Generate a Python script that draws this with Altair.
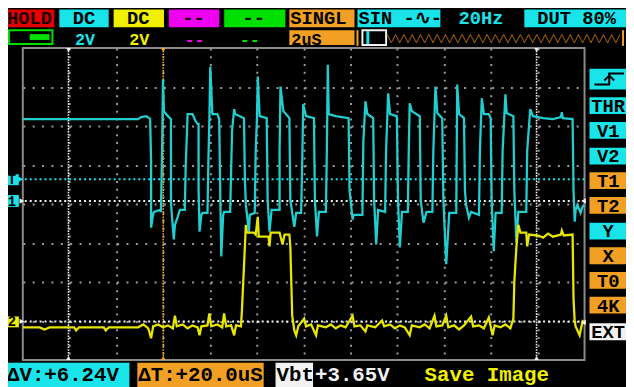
import altair as alt
import pandas as pd

# ---------------- scope settings ----------------
US_PER_DIV = 2          # 2uS / div
VOLTS_PER_DIV = 2       # 2V / div
X_DIVS = 12
Y_DIVS = 8
CH1_GROUND = 8.15       # screen volts above bottom edge
CH2_GROUND = 1.97
TRIG_LEVEL_V = 1.11     # CH1 trigger level
TRIG_TIME_US = 6.0
T_CURSORS_US = [1.95, 21.95]

# ---------------- traces: (time us, volts) ----------------
CH1_POINTS = [
    (0.00, 4.20), (4.93, 4.20), (5.06, 4.30), (5.27, 4.35), (5.40, 4.25), (5.44, 4.20),
    (5.48, 2.08), (5.48, -1.37), (5.57, -0.66), (5.61, -0.56), (5.86, -0.46), (5.90, -0.56),
    (5.95, 2.58), (5.99, 6.23), (6.03, 4.61), (6.12, 4.46), (6.28, 4.25), (6.33, 4.20),
    (6.33, -0.10), (6.45, -1.97), (6.50, -1.22), (6.62, -0.81), (6.71, -0.46), (6.92, -0.46),
    (6.96, 1.82), (7.00, 3.09), (7.04, 4.46), (7.25, 4.46), (7.38, 4.10), (7.47, 3.95), (7.51, 3.95),
    (7.51, 0.56), (7.55, -1.57), (7.63, -0.71), (7.68, -0.61), (7.89, -0.61),
    (7.93, 2.08), (7.97, 4.10), (8.01, 6.89), (8.10, 4.46), (8.31, 4.46), (8.39, 4.20),
    (8.44, 0.05), (8.48, -2.84), (8.56, -0.71), (8.60, -0.56), (8.86, -0.56),
    (8.90, 1.57), (8.94, 3.59), (9.03, 4.71), (9.07, 4.46), (9.45, 4.25),
    (9.49, 1.06), (9.53, -0.20), (9.66, -1.57), (9.70, -0.71), (9.91, -0.61),
    (9.95, 2.58), (10.00, 4.10), (10.04, 6.38), (10.12, 4.35), (10.42, 4.25),
    (10.46, 0.05), (10.54, -1.57), (10.63, -0.46), (10.97, -0.46),
    (10.97, 2.58), (11.01, 5.87), (11.13, 4.61), (11.39, 4.25),
    (11.43, 0.05), (11.60, -1.32), (11.68, -0.61), (11.89, -0.61),
    (11.94, 2.08), (11.98, 4.96), (12.10, 4.35), (12.44, 4.25),
    (12.48, 0.05), (12.57, -1.82), (12.65, -0.56), (12.95, -0.56),
    (12.99, 2.58), (13.03, 6.99), (13.07, 4.46), (13.37, 4.35), (13.92, 4.25),
    (13.96, 0.56), (14.09, -0.96), (14.13, -0.71), (14.51, -0.71),
    (14.55, 3.09), (14.64, 5.11), (14.72, 4.46), (14.97, 4.25),
    (15.01, 0.05), (15.10, -2.23), (15.18, -0.46), (15.48, -0.56),
    (15.52, 2.58), (15.61, 5.52), (15.69, 4.46), (15.98, 4.35),
    (16.03, 0.05), (16.11, -2.38), (16.20, -0.56), (16.45, -0.56),
    (16.49, 2.58), (16.53, 5.01), (16.62, 4.61), (16.96, 4.35),
    (17.00, 0.05), (17.12, -1.11), (17.25, -0.56), (17.50, -0.56),
    (17.54, 2.58), (17.63, 5.87), (17.71, 4.51), (17.92, 4.25),
    (17.97, 0.05), (18.09, -3.24), (18.22, -0.61), (18.52, -0.61),
    (18.56, 5.97), (18.64, 4.46), (18.85, 4.25),
    (18.89, 0.56), (18.94, -0.20), (19.06, -0.86), (19.15, -0.56), (19.49, -0.71),
    (19.53, 2.58), (19.61, 5.27), (19.70, 4.46), (19.91, 4.46), (19.99, 4.25),
    (20.03, 0.05), (20.12, -2.58), (20.20, -0.61), (20.46, -0.61),
    (20.50, 2.58), (20.62, 5.47), (20.67, 4.51), (20.96, 4.35),
    (21.00, 0.56), (21.09, -2.13), (21.17, -0.56), (21.51, -0.56),
    (21.55, 2.58), (21.68, 4.71), (21.80, 4.35), (22.23, 4.25), (22.65, 4.20),
    (22.99, 4.30), (23.03, 4.56), (23.07, 4.25), (23.49, 4.20),
    (23.53, 0.56), (23.58, -1.06), (23.62, -0.46), (23.70, -0.20), (23.83, -0.61),
    (23.91, -0.30), (24.00, -0.20),
]

CH2_POINTS = [
    (0.00, -0.30), (0.72, -0.30), (0.93, -0.41), (1.14, -0.30), (2.19, -0.30), (2.28, -0.46),
    (2.40, -0.30), (3.46, -0.30), (3.54, -0.46), (3.67, -0.30), (4.93, -0.30),
    (5.15, -0.15), (5.36, -0.35), (5.48, -0.86), (5.57, -0.25), (5.78, -0.15), (5.99, -0.30),
    (6.20, -0.20), (6.41, -0.35), (6.50, 0.30), (6.58, -0.25), (6.83, -0.15), (7.04, -0.35),
    (7.25, -0.20), (7.47, -0.30), (7.55, -0.71), (7.63, -0.25), (7.89, -0.20), (7.97, 0.41),
    (8.05, -0.25), (8.31, -0.15), (8.52, -0.30), (8.60, 0.41), (8.69, -0.25), (8.90, -0.20),
    (9.03, -0.71), (9.11, -0.20), (9.32, -0.25),
    (9.36, 0.51), (9.45, 2.84), (9.53, 4.96), (9.57, 4.56), (9.87, 4.56), (9.95, 4.46),
    (10.04, 5.37), (10.08, 4.35), (10.50, 4.35), (10.54, 3.85), (10.59, 4.56), (10.97, 4.56),
    (11.10, 3.95), (11.18, 4.46), (11.39, 4.46),
    (11.43, 3.85), (11.51, 0.30), (11.60, -0.46), (11.68, -0.71), (11.77, -0.25),
    (12.02, 0.15), (12.10, -0.25), (12.32, -0.15), (12.53, -0.71), (12.61, -0.20),
    (12.95, -0.30), (13.16, -0.15), (13.37, -0.35), (13.58, -0.20), (13.79, -0.30),
    (14.09, 0.30), (14.17, -0.25), (14.42, -0.20), (14.64, -0.51), (14.72, -0.20),
    (15.06, -0.30), (15.35, 0.05), (15.44, -0.25), (15.69, -0.15), (15.90, -0.35),
    (16.11, -0.20), (16.32, -0.30), (16.53, -0.71), (16.62, -0.20), (16.96, -0.30),
    (17.17, -0.15), (17.38, -0.35), (17.59, 0.30), (17.67, -0.25), (17.92, -0.20),
    (18.09, 0.30), (18.18, -0.30), (18.43, -0.20), (18.64, -0.41), (18.85, -0.20),
    (19.15, 0.25), (19.24, -0.25), (19.49, -0.20), (19.70, -0.35), (19.91, 0.20),
    (19.99, -0.25), (20.07, -0.71), (20.16, -0.20), (20.41, -0.30), (20.62, -0.15),
    (20.83, -0.35), (20.96, 0.15),
    (21.00, 2.03), (21.09, 3.85), (21.17, 4.96), (21.26, 4.56), (21.51, 4.56), (21.55, 3.85),
    (21.63, 4.46), (22.02, 4.41), (22.23, 4.30), (22.44, 4.51), (22.65, 4.35), (22.99, 4.46),
    (23.03, 4.66), (23.11, 4.41), (23.49, 4.46),
    (23.53, 1.16), (23.58, 0.00), (23.62, -0.25), (23.79, -0.71), (23.91, 0.00), (24.00, -0.10),
]

# ---------------- screen texts ----------------
TOP_LABELS = ["HOLD", "DC", "DC", "--", "--", "SINGL", "SIN -\u223f-", "20Hz", "DUT 80%"]
ROW2_LABELS = ["2V", "2V", "--", "--", "2uS"]
SIDE_BUTTONS = ["THR", "V1", "V2", "T1", "T2", "Y", "X", "T0", "4K", "EXT"]
BOTTOM_LABELS = ["\u0394V:+6.24V", "\u0394T:+20.0uS", "Vbt", "+3.65V", "Save Image"]

# ---------------- colours ----------------
CYAN = "#18e4ea"
CYAN_TR = "#22cdd0"
YELLOW = "#f0f000"
YELLOW_TR = "#e6e600"
MAGENTA = "#f000f0"
GREEN = "#00e000"
ORANGE = "#f2a024"
RED = "#e40000"
WHITE = "#f2f2f2"
BLACK = "#000000"
GRID = "#9a9a9a"
FONT = "Liberation Mono"

# ---------------- build trace table ----------------
rows = []
for i, (t, v) in enumerate(CH1_POINTS):
    rows.append({"ch": "CH1", "i": i, "t": t, "y": v + CH1_GROUND})
for i, (t, v) in enumerate(CH2_POINTS):
    rows.append({"ch": "CH2", "i": i, "t": t, "y": v + CH2_GROUND})
traces_df = pd.DataFrame(rows)

X_MAIN = alt.Scale(domain=[0, US_PER_DIV * X_DIVS], nice=False, zero=False)
Y_MAIN = alt.Scale(domain=[0, VOLTS_PER_DIV * Y_DIVS], nice=False, zero=False)

# layout scales (screen coordinates of the device picture)
PX_X = alt.Scale(domain=[23, 592], nice=False, zero=False)
PX_Y = alt.Scale(domain=[46, 362], nice=False, zero=False, reverse=True)

x_grid_axis = alt.Axis(values=[US_PER_DIV * k for k in range(1, X_DIVS)], grid=True,
                       gridColor=GRID, gridDash=[2, 5.9], gridWidth=2, labels=False,
                       ticks=False, domain=False, title=None)
y_grid_axis = alt.Axis(values=[VOLTS_PER_DIV * k for k in range(1, Y_DIVS)], grid=True,
                       gridColor=GRID, gridDash=[2, 7.5], gridWidth=2, labels=False,
                       ticks=False, domain=False, title=None)

traces = alt.Chart(traces_df).mark_line(strokeWidth=2.3, interpolate="linear").encode(
    x=alt.X("t:Q", scale=X_MAIN, axis=x_grid_axis),
    y=alt.Y("y:Q", scale=Y_MAIN, axis=y_grid_axis),
    color=alt.Color("ch:N", scale=alt.Scale(domain=["CH1", "CH2"], range=[CYAN_TR, YELLOW_TR]), legend=None),
    order=alt.Order("i:Q"),
)

# cursors
vcur_df = pd.DataFrame({"t": T_CURSORS_US + [TRIG_TIME_US], "c": [WHITE, WHITE, ORANGE]})
vcur = alt.Chart(vcur_df).mark_rule(strokeDash=[1.6, 1.2], strokeWidth=1.6).encode(
    x=alt.X("t:Q", scale=X_MAIN, axis=None),
    color=alt.Color("c:N", scale=None),
)
vmark_top = alt.Chart(vcur_df).mark_point(filled=True, size=22, opacity=1, shape="triangle-down").encode(
    x=alt.X("t:Q", scale=X_MAIN, axis=None), y=alt.value(2), color=alt.Color("c:N", scale=None))
vmark_bot = alt.Chart(vcur_df).mark_point(filled=True, size=22, opacity=1, shape="triangle-up").encode(
    x=alt.X("t:Q", scale=X_MAIN, axis=None), y=alt.value(314), color=alt.Color("c:N", scale=None))

hcur_df = pd.DataFrame({"y": [CH1_GROUND + TRIG_LEVEL_V, CH1_GROUND, CH2_GROUND],
                        "c": [CYAN, WHITE, WHITE]})
hcur = alt.Chart(hcur_df).mark_rule(strokeDash=[2, 3], strokeWidth=2).encode(
    y=alt.Y("y:Q", scale=Y_MAIN, axis=None),
    color=alt.Color("c:N", scale=None),
)

# ---------------- device chrome (layout in screen pixels) ----------------
box_rows = [
    (6, 55, 7, 25, RED), (60, 110, 7, 25, CYAN), (115, 166, 7, 25, YELLOW),
    (171, 222, 7, 25, MAGENTA), (227, 289, 7, 25, GREEN), (293, 359, 7, 25, ORANGE),
    (362, 446, 7, 25, CYAN), (531, 650, 7, 25, CYAN), (293, 359, 28, 43, ORANGE),
    (597, 650, 67, 88, CYAN),
    (597, 650, 96, 113, CYAN), (597, 650, 121, 138, CYAN), (597, 650, 147, 164, CYAN),
    (597, 650, 172, 189, ORANGE), (597, 650, 197, 214, ORANGE), (597, 650, 223, 240, CYAN),
    (597, 650, 248, 265, ORANGE), (597, 650, 273, 290, ORANGE), (597, 650, 298, 315, ORANGE),
    (597, 650, 325, 342, WHITE),
    (5, 131, 365, 395, CYAN), (139, 267, 365, 395, ORANGE), (279, 317, 365, 395, WHITE),
    (5, 19, 174, 185, CYAN), (5, 19, 195, 207, CYAN), (5, 19, 318, 329, YELLOW),
    (30, 50, 32, 38, GREEN), (6, 9, 32, 38, GREEN),
    (371, 374, 29, 44, CYAN), (361, 363, 28, 44, ORANGE), (630, 632, 28, 44, ORANGE),
]
boxes_df = pd.DataFrame(box_rows, columns=["x1", "x2", "y1", "y2", "fill"])
boxes = alt.Chart(boxes_df).mark_rect(clip=False).encode(
    x=alt.X("x1:Q", scale=PX_X, axis=None), x2="x2:Q",
    y=alt.Y("y1:Q", scale=PX_Y, axis=None), y2="y2:Q",
    color=alt.Color("fill:N", scale=None),
)
outline_df = pd.DataFrame([(9, 53, 28, 42, GREEN), (367, 391, 28, 43, WHITE)],
                          columns=["x1", "x2", "y1", "y2", "s"])
outlines = alt.Chart(outline_df).mark_rect(clip=False, fillOpacity=0, strokeWidth=2).encode(
    x=alt.X("x1:Q", scale=PX_X, axis=None), x2="x2:Q",
    y=alt.Y("y1:Q", scale=PX_Y, axis=None), y2="y2:Q",
    stroke=alt.Stroke("s:N", scale=None),
)

icon_df = pd.DataFrame([
    ("edge", 0, 602, 83), ("edge", 1, 617, 83), ("edge", 2, 617, 72), ("edge", 3, 632, 72),
    ("arrow", 0, 612, 79), ("arrow", 1, 617, 74), ("arrow", 2, 622, 79),
], columns=["g", "k", "x", "y"])
icons = alt.Chart(icon_df).mark_line(clip=False, color=BLACK, strokeWidth=2).encode(
    x=alt.X("x:Q", scale=PX_X, axis=None), y=alt.Y("y:Q", scale=PX_Y, axis=None),
    detail="g:N", order="k:Q",
)

text_left = pd.DataFrame([
    (TOP_LABELS[0], 7, 22, "#1a0000", 19), (TOP_LABELS[5], 294, 22, BLACK, 19),
    (TOP_LABELS[6], 363, 22, BLACK, 19), (TOP_LABELS[8], 544, 22, BLACK, 19),
    (ROW2_LABELS[4], 295, 43, BLACK, 17),
    (BOTTOM_LABELS[0], 7, 383, BLACK, 21), (BOTTOM_LABELS[1], 140, 383, BLACK, 21),
    (BOTTOM_LABELS[2], 280, 383, BLACK, 21), (BOTTOM_LABELS[3], 319, 383, WHITE, 21),
    (BOTTOM_LABELS[4], 430, 383, YELLOW, 21),
], columns=["text", "x", "y", "c", "fs"])
text_center = pd.DataFrame([
    (TOP_LABELS[1], 85, 22, BLACK, 19), (TOP_LABELS[2], 140, 22, BLACK, 19),
    (TOP_LABELS[3], 196, 22, BLACK, 19), (TOP_LABELS[4], 257, 22, BLACK, 19),
    (TOP_LABELS[7], 487, 22, CYAN, 19),
    (ROW2_LABELS[0], 86, 43, CYAN, 17), (ROW2_LABELS[1], 141, 43, YELLOW, 17),
    (ROW2_LABELS[2], 197, 43, MAGENTA, 17), (ROW2_LABELS[3], 253, 43, GREEN, 17),
    (SIDE_BUTTONS[0], 616, 111, BLACK, 19), (SIDE_BUTTONS[1], 616, 136, BLACK, 19),
    (SIDE_BUTTONS[2], 616, 162, BLACK, 19), (SIDE_BUTTONS[3], 616, 187, BLACK, 19),
    (SIDE_BUTTONS[4], 616, 212, BLACK, 19), (SIDE_BUTTONS[5], 616, 238, BLACK, 19),
    (SIDE_BUTTONS[6], 616, 263, BLACK, 19), (SIDE_BUTTONS[7], 616, 288, BLACK, 19),
    (SIDE_BUTTONS[8], 616, 313, BLACK, 19), (SIDE_BUTTONS[9], 616, 340, BLACK, 19),
    ("T", 12, 184, BLACK, 14), ("1", 12, 206, BLACK, 14), ("2", 12, 328, BLACK, 14),
], columns=["text", "x", "y", "c", "fs"])


def text_layer(df, align, font=FONT):
    return alt.Chart(df).mark_text(clip=False, align=align, baseline="alphabetic",
                                   font=font, fontWeight="bold").encode(
        x=alt.X("x:Q", scale=PX_X, axis=None), y=alt.Y("y:Q", scale=PX_Y, axis=None),
        text="text:N", color=alt.Color("c:N", scale=None), size=alt.Size("fs:Q", scale=None),
    )


zig_df = pd.DataFrame([("\u2572\u2571" * 28, 392, 39, ORANGE, 7)], columns=["text", "x", "y", "c", "fs"])
zig = alt.Chart(zig_df).mark_text(clip=False, align="left", baseline="alphabetic",
                                  font="DejaVu Sans Mono").encode(
    x=alt.X("x:Q", scale=PX_X, axis=None), y=alt.Y("y:Q", scale=PX_Y, axis=None),
    text="text:N", color=alt.Color("c:N", scale=None), size=alt.Size("fs:Q", scale=None),
)

tri_df = pd.DataFrame([
    (21, 179, CYAN, "triangle-right"), (22, 201, WHITE, "triangle-right"),
    (22, 323, WHITE, "triangle-right"), (591, 201, WHITE, "triangle-left"),
    (591, 324, WHITE, "triangle-left"),
], columns=["x", "y", "c", "shp"])
tris = alt.Chart(tri_df).mark_point(clip=False, filled=True, size=30, opacity=1).encode(
    x=alt.X("x:Q", scale=PX_X, axis=None), y=alt.Y("y:Q", scale=PX_Y, axis=None),
    color=alt.Color("c:N", scale=None), shape=alt.Shape("shp:N", scale=None),
)

chart = alt.layer(
    vcur, hcur, traces, vmark_top, vmark_bot,
    boxes, outlines, icons, text_layer(text_left, "left"), text_layer(text_center, "center"),
    zig, tris,
).resolve_scale(
    x="independent", y="independent", color="independent", size="independent", shape="independent"
).properties(
    width=569, height=316,
    autosize=alt.AutoSizeParams(type="none"),
    padding={"left": 15, "top": 38, "right": 42, "bottom": 25},
).configure(background="black").configure_view(stroke="#8a8a8a", strokeWidth=2)

chart.save("out.html", embed_options={"renderer": "svg", "actions": False})
